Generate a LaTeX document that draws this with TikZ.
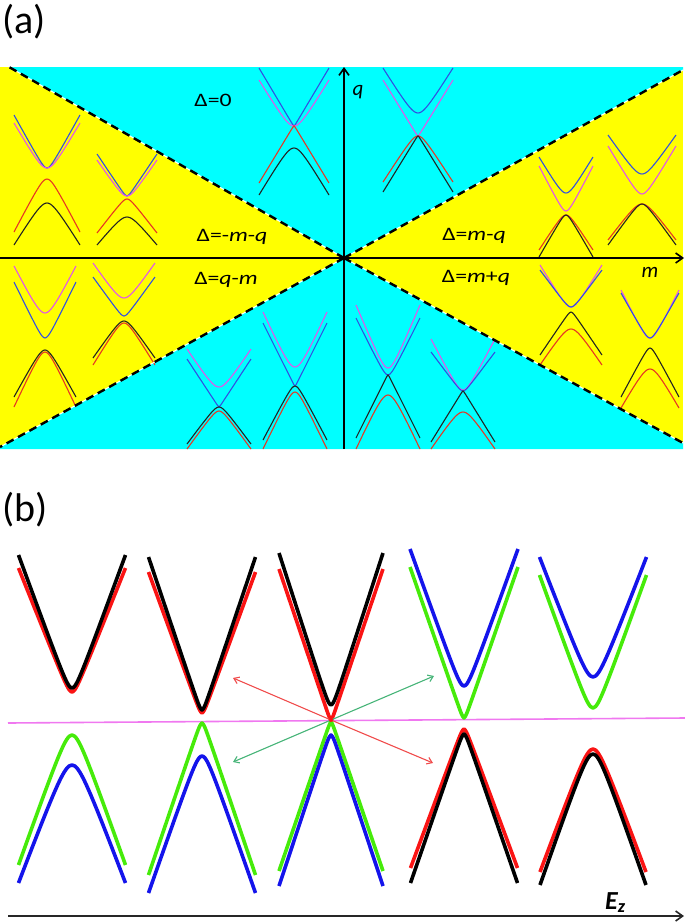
\documentclass[tikz,border=0pt]{standalone}
\usepackage{fontspec}
\setmainfont{Carlito}
\usetikzlibrary{arrows.meta}
\definecolor{cyanbg}{RGB}{0,255,255}
\definecolor{yellowbg}{RGB}{255,255,0}
\definecolor{bblue}{RGB}{50,80,225}
\definecolor{bpink}{RGB}{225,85,235}
\definecolor{bred}{RGB}{230,55,35}
\definecolor{bblack}{RGB}{35,35,35}
\definecolor{Bgreen}{RGB}{70,235,10}
\definecolor{Bblue}{RGB}{20,20,235}
\definecolor{Bred}{RGB}{250,20,20}
\definecolor{linemag}{RGB}{240,120,240}
\definecolor{arrred}{RGB}{240,75,75}
\definecolor{arrgreen}{RGB}{70,180,120}
% #1 style, #2 centre x, #3 half width, #4 apex y, #5 end y, #6 rounding
\newcommand{\bandc}[6]{\draw[#1] plot[domain=-#3:#3,samples=41,smooth] ({#2+\x},{#4+(#5-#4)*(sqrt((#6)*(#6)+(\x)*(\x))-(#6))/(sqrt((#6)*(#6)+(#3)*(#3))-(#6))});}
\newcommand{\wideTxt}[1]{\scalebox{1.25}[1]{#1}}
\tikzset{
  thin band/.style={line width=1.1pt},
  thick band/.style={line width=3.6pt, line join=round},
  lbl/.style={font=\fontsize{19}{22}\selectfont, inner sep=0pt},
  axlbl/.style={font=\fontsize{21}{24}\selectfont\itshape, inner sep=0pt},
  panel lbl/.style={font=\fontsize{40}{44}\selectfont, inner sep=0pt, anchor=west},
  axis/.style={line width=1.8pt, -{Straight Barb[length=7pt,width=10pt,line width=1.6pt]}},
  divider/.style={line width=2.4pt, dash pattern=on 8pt off 5pt},
  small arrow/.style={line width=1.1pt, -{Straight Barb[length=5pt,width=7pt]}}
}
\begin{document}
\begin{tikzpicture}[x=1pt,y=-1pt]
\useasboundingbox (0,0) rectangle (685,924);
% ---------- panel (a) ----------
\node[panel lbl] (la) at (2,22) {(a)};
\coordinate (O) at (344,258);
\coordinate (TL) at (9,67);
\coordinate (TR) at (683,70);
\coordinate (BL) at (0,447);
\coordinate (BR) at (683,443);
\fill[yellowbg] (0,67) rectangle (683,449);
\fill[cyanbg] (TL) -- (683,67) -- (TR) -- (O) -- cycle;
\fill[cyanbg] (BL) -- (O) -- (BR) -- (683,449) -- (0,449) -- cycle;
\begin{scope}
\clip (0,67) rectangle (683,449);
% A1
\bandc{bblue,thin band}{47}{33}{168}{115}{4}
\bandc{bpink,thin band}{47}{33}{168}{123}{8}
\bandc{bred,thin band}{47}{33}{179}{232}{6}
\bandc{bblack,thin band}{47}{33}{203}{245}{8}
% A2
\bandc{bblue,thin band}{127}{30}{196}{154}{2}
\bandc{bpink,thin band}{127}{30}{196}{160}{6}
\bandc{bred,thin band}{127}{30}{199}{233}{4}
\bandc{bblack,thin band}{127}{30}{217}{245}{8}
% A3
\bandc{bblue,thin band}{294}{35}{126}{68}{0.5}
\bandc{bpink,thin band}{294}{35}{126}{80}{8}
\bandc{bred,thin band}{294}{35}{126}{183}{0.5}
\bandc{bblack,thin band}{294}{35}{148}{195}{8}
% A4
\bandc{bblue,thin band}{418}{35}{113}{68}{8}
\bandc{bpink,thin band}{418}{35}{136}{80}{0.5}
\bandc{bred,thin band}{418}{35}{136}{182}{6}
\bandc{bblack,thin band}{418}{35}{136}{192}{0.5}
% A5
\bandc{bblue,thin band}{566}{27}{193}{157}{6}
\bandc{bpink,thin band}{566}{27}{211}{166}{4}
\bandc{bred,thin band}{566}{27}{215}{250}{5}
\bandc{bblack,thin band}{566}{27}{215}{257}{3}
% A6
\bandc{bblue,thin band}{642}{34}{174}{135}{8}
\bandc{bpink,thin band}{642}{34}{194}{146}{6}
\bandc{bred,thin band}{642}{34}{204}{240}{8}
\bandc{bblack,thin band}{642}{34}{204}{245}{5}
% A7
\bandc{bpink,thin band}{45}{31}{313}{266}{8}
\bandc{bblue,thin band}{45}{31}{338}{282}{4}
\bandc{bred,thin band}{45}{31}{352}{407}{6}
\bandc{bblack,thin band}{45}{31}{350}{397}{6}
% A8
\bandc{bpink,thin band}{124}{31}{298}{263}{8}
\bandc{bblue,thin band}{124}{31}{316}{277}{3}
\bandc{bred,thin band}{124}{31}{323}{365}{6}
\bandc{bblack,thin band}{124}{31}{321}{358}{6}
% A9
\bandc{bpink,thin band}{219}{32}{387}{349}{8}
\bandc{bblue,thin band}{219}{32}{407}{359}{0.5}
\bandc{bred,thin band}{219}{32}{411}{449}{5}
\bandc{bblack,thin band}{219}{32}{407}{444}{5}
% A10
\bandc{bpink,thin band}{295}{32}{367}{312}{8}
\bandc{bblue,thin band}{295}{32}{386}{323}{0.5}
\bandc{bred,thin band}{295}{32}{392}{449}{5}
\bandc{bblack,thin band}{295}{32}{386}{440}{4}
% A11
\bandc{bpink,thin band}{388}{32}{368}{305}{6}
\bandc{bblue,thin band}{388}{32}{375}{318}{4}
\bandc{bred,thin band}{388}{32}{395}{449}{8}
\bandc{bblack,thin band}{388}{32}{375}{438}{0.5}
% A12
\bandc{bpink,thin band}{463}{32}{390}{339}{6}
\bandc{bblue,thin band}{463}{32}{391}{352}{3}
\bandc{bred,thin band}{463}{32}{412}{449}{8}
\bandc{bblack,thin band}{463}{32}{391}{442}{0.5}
% A13
\bandc{bpink,thin band}{571}{31}{307}{265}{6}
\bandc{bblue,thin band}{571}{31}{307}{270}{4}
\bandc{bblack,thin band}{571}{31}{312}{355}{2}
\bandc{bred,thin band}{571}{31}{329}{365}{8}
% A14
\bandc{bpink,thin band}{650}{29}{338}{290}{6}
\bandc{bblue,thin band}{650}{29}{338}{293}{4}
\bandc{bblack,thin band}{650}{29}{348}{397}{3}
\bandc{bred,thin band}{650}{29}{369}{408}{8}
\end{scope}
% dividers
\foreach \c in {TL,TR,BL,BR}{
  \draw[white, line width=1pt] (O) -- (\c);
  \draw[black, divider] (O) -- (\c);
}
% axes
\coordinate (mstart) at (0,258);
\coordinate (mend) at (684,258);
\coordinate (qstart) at (344,449);
\coordinate (qend) at (344,67);
\draw[axis] (mstart) -- (mend);
\draw[axis] (qstart) -- (qend);
\node[axlbl] (qlab) at (358,92) {q};
\node[axlbl] (mlab) at (650,272) {m};
\node[lbl] (d0) at (213,100) {\wideTxt{Δ=0}};
\node[lbl] (dmmq) at (232,237) {\wideTxt{Δ=-\textit{m}-\textit{q}}};
\node[lbl] (dqm) at (226,280) {\wideTxt{Δ=\textit{q}-\textit{m}}};
\node[lbl] (dmq) at (474,236) {\wideTxt{Δ=\textit{m}-\textit{q}}};
\node[lbl] (dmpq) at (476,278) {\wideTxt{Δ=\textit{m}+\textit{q}}};
% ---------- panel (b) ----------
\node[panel lbl] (lb) at (2,510) {(b)};
\coordinate (mlL) at (8,723);
\coordinate (mlR) at (685,718);
\draw[linemag, line width=1.6pt] (mlL) -- (mlR);
% row 1
\bandc{Bred,thick band}{72}{53.5}{692}{568}{4}
\bandc{black,thick band}{72}{53.5}{688}{555}{5}
\bandc{Bred,thick band}{202}{53.5}{713}{572}{2}
\bandc{black,thick band}{202}{53.5}{710}{557}{2}
\bandc{Bred,thick band}{331}{52}{720}{569}{1}
\bandc{black,thick band}{331}{52}{705}{553}{3}
\bandc{Bblue,thick band}{464}{54}{686}{549}{5}
\bandc{Bgreen,thick band}{464}{54}{718}{567}{1.5}
\bandc{Bblue,thick band}{593}{53.5}{677}{557}{8}
\bandc{Bgreen,thick band}{593}{53.5}{708}{575}{6}
% row 2
\bandc{Bgreen,thick band}{72}{53.5}{735}{865}{8}
\bandc{Bblue,thick band}{72}{53.5}{765}{883}{10}
\bandc{Bgreen,thick band}{202}{53.5}{723}{875}{2}
\bandc{Bblue,thick band}{202}{53.5}{756}{893}{6}
\bandc{Bgreen,thick band}{331}{52}{722}{871}{1}
\bandc{Bblue,thick band}{331}{52}{735}{886}{2}
\bandc{Bred,thick band}{464}{53.5}{729}{868}{2}
\bandc{black,thick band}{464}{53.5}{734}{883}{2}
\bandc{Bred,thick band}{593}{53}{749}{872}{8}
\bandc{black,thick band}{593}{53}{754}{885}{8}
% arrows from the crossing point
\coordinate (C) at (331,720);
\coordinate (aUL) at (233,678);
\coordinate (aUR) at (434,676);
\coordinate (aLL) at (233,762);
\coordinate (aLR) at (433,763);
\draw[arrred, small arrow] (C) -- (aUL);
\draw[arrgreen, small arrow] (C) -- (aUR);
\draw[arrgreen, small arrow] (C) -- (aLL);
\draw[arrred, small arrow] (C) -- (aLR);
\fill[Bred] (C) circle (2);
% E_z axis
\coordinate (ezL) at (8,916);
\coordinate (ezR) at (684,916);
\draw[axis, black!85] (ezL) -- (ezR);
\node[inner sep=0pt, anchor=base west, font=\fontsize{26}{30}\selectfont\bfseries\itshape] (ez) at (605,909) {E\textsubscript{z}};
\end{tikzpicture}
\end{document}
